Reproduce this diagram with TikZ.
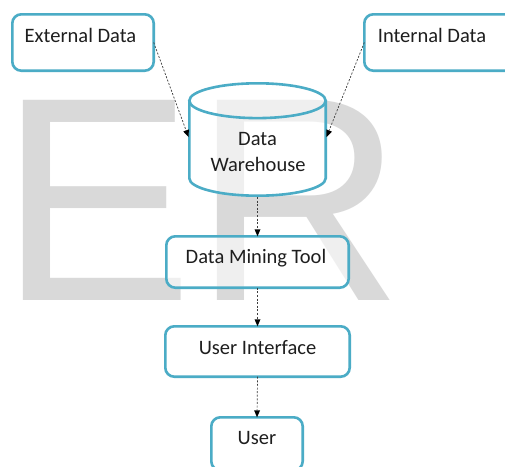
\documentclass[tikz,border=0pt]{standalone}
\usepackage{fontspec}
\setmainfont{Carlito}
\newfontfamily\wmfont{Liberation Sans}
\usetikzlibrary{arrows.meta}
\definecolor{boxline}{RGB}{75,172,198}
\definecolor{wmgray}{RGB}{217,217,217}
\definecolor{txt}{RGB}{30,30,30}
\definecolor{flowline}{RGB}{60,60,60}
\tikzset{
  box/.style={draw=boxline, line width=2.6pt, rounded corners=9pt,
    fill=white, fill opacity=0.6, draw opacity=1, text opacity=1,
    inner sep=0pt, outer sep=0pt},
  lbl/.style={font=\fontsize{20.5}{24}\selectfont, text=txt, inner sep=0pt, anchor=base},
  flow/.style={draw=flowline, line width=0.7pt, dash pattern=on 2pt off 1.6pt,
    -{Triangle[length=7pt,width=6pt,fill=black,line width=0pt]}},
}
\begin{document}
\begin{tikzpicture}[x=1pt, y=-1pt]
  \clip (0,0) rectangle (505,466);
  \fill[white] (0,0) rectangle (505,466);

  % background letters
  \node[font=\wmfont\fontsize{291}{291}\selectfont, text=wmgray,
        inner sep=0pt, anchor=base west] (wm) at (-1,300) {ER};

  % source boxes
  \node[box, minimum width=141.4pt, minimum height=56.4pt] (ext) at (83,42.5) {};
  \node[lbl] (ext-t) at (80.5,42) {External Data};
  \node[box, minimum width=155pt, minimum height=56.4pt] (int) at (441.8,42.5) {};
  \node[lbl] (int-t) at (432,42) {Internal Data};

  % warehouse cylinder
  \path[fill=white, fill opacity=0.6]
    (189.3,100.7) -- (189.3,178.3)
    arc[start angle=180, end angle=360, x radius=68.2pt, y radius=17.4pt]
    -- (325.7,100.7)
    arc[start angle=0, end angle=180, x radius=68.2pt, y radius=17.4pt] -- cycle;
  \draw[boxline, line width=2.6pt]
    (189.3,100.7) -- (189.3,178.3)
    arc[start angle=180, end angle=360, x radius=68.2pt, y radius=17.4pt]
    -- (325.7,100.7);
  \draw[boxline, line width=2.6pt] (257.5,100.7) ellipse [x radius=68.2pt, y radius=17.4pt];
  \coordinate (dw-l) at (188.5,137);
  \coordinate (dw-r) at (326.5,137);
  \coordinate (dw-b) at (257.5,197);
  \node[lbl] (dw-t1) at (257.5,145) {Data};
  \node[lbl] (dw-t2) at (258,171.7) {Warehouse};

  % processing chain
  \node[box, minimum width=182.4pt, minimum height=51.4pt] (dmt) at (257.5,262) {};
  \node[lbl] (dmt-t) at (256,263) {Data Mining Tool};
  \node[box, minimum width=184.4pt, minimum height=50.4pt] (ui) at (257.5,351.5) {};
  \node[lbl] (ui-t) at (257.5,354.3) {User Interface};
  \node[box, minimum width=91.4pt, minimum height=53pt] (usr) at (257,443.8) {};
  \node[lbl] (usr-t) at (257,444) {User};

  % connectors
  \draw[flow] (ext.east) -- (dw-l);
  \draw[flow] (int.west) -- (dw-r);
  \draw[flow] (dw-b) -- (dmt.north);
  \draw[flow] (dmt.south) -- (ui.north);
  \draw[flow] (ui.south) -- (usr.north);
\end{tikzpicture}
\end{document}
